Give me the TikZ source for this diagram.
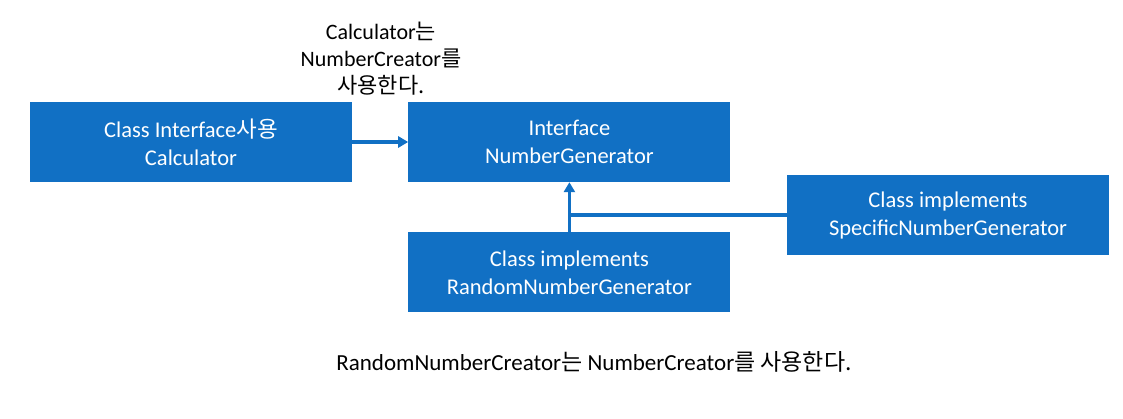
\documentclass[tikz,border=0pt]{standalone}
\usepackage{fontspec}
\setmainfont{Carlito}
\newfontfamily\kr{Noto Sans CJK KR}
\usetikzlibrary{arrows.meta, positioning}
\definecolor{boxfill}{HTML}{1170C4}
\tikzset{
  clsbox/.style = {font=\fontsize{22.5}{28}\selectfont, align=center,
                   fill=boxfill, text=white, inner sep=0pt,
                   minimum width=322pt, minimum height=80pt},
  note/.style   = {font=\fontsize{22}{27}\selectfont, align=center, text=black},
  link/.style   = {line width=3.5pt, draw=boxfill},
  uses/.style   = {link, -{Triangle[length=10pt, width=11pt]}},
}

\begin{document}
\begin{tikzpicture}[x=1pt, y=-1pt, node distance=50pt and 56pt]
        \useasboundingbox (0,0) rectangle (1123,418);
        \node[clsbox] (calc) at (191,142) {Class Interface{\kr 사용}\\Calculator};
        \node[clsbox, right=of calc] (iface) {Interface\\NumberGenerator};
        \node[clsbox, below=of iface] (randgen) {Class implements\\RandomNumberGenerator};
        \node[clsbox] (specgen) at (948,215) {Class implements\\SpecificNumberGenerator};
        \node[note] (usenote) at (381,59) {Calculator{\kr 는}\\NumberCreator{\kr 를}\\{\kr 사용한다.}};
        \node[note, font=\fontsize{23}{27}\selectfont] (randnote) at (594,362) {RandomNumberCreator{\kr 는} NumberCreator{\kr 를 사용한다.}};
        \coordinate (join) at (randgen.north |- specgen.west);
        \draw[uses] (calc)    -- (iface);
        \draw[uses] (randgen) -- (iface);
        \draw[link] (specgen) -- (join);
    \end{tikzpicture}
\end{document}
